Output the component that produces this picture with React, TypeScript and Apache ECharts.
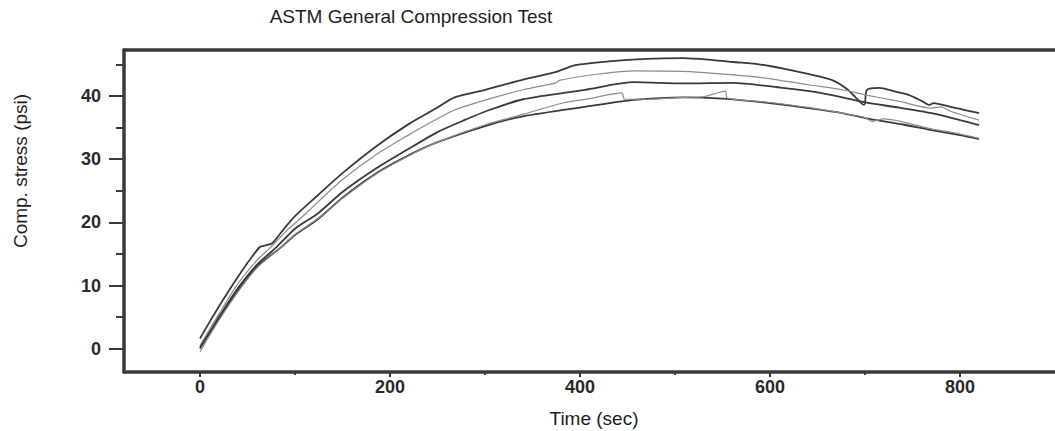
import { useEffect, useRef } from "react";
import * as echarts from "echarts";

const TITLE = "ASTM General Compression Test";
const X_NAME = "Time (sec)";
const Y_NAME = "Comp. stress (psi)";

const xMajorTicks = [0, 200, 400, 600, 800];
const xMinorTicks = [100, 300, 500, 700];
const yMajorTicks = [0, 10, 20, 30, 40];
const yMinorTicks = [5, 15, 25, 35, 45];

const tA = [0, 10, 20, 30, 40, 52, 63, 68, 76, 88, 100, 124, 150, 186, 220, 250, 268, 300, 340, 374, 395, 430, 470, 509, 540, 561, 590, 613, 640, 666, 682, 699, 702, 715, 730, 746, 760, 768, 772, 790, 804, 820];
const sA = [1.6, 4.2, 6.7, 9.1, 11.4, 14.0, 16.1, 16.3, 16.7, 18.9, 21.0, 24.3, 27.8, 32.1, 35.6, 38.2, 39.8, 41.0, 42.6, 43.8, 44.9, 45.5, 45.9, 46.0, 45.7, 45.4, 45.0, 44.4, 43.5, 42.5, 41.0, 38.6, 41.0, 41.3, 40.8, 40.2, 39.2, 38.6, 38.9, 38.3, 37.8, 37.3];

const tB = [0, 20, 40, 60, 74, 90, 110, 124, 150, 186, 218, 245, 268, 301, 340, 375, 378, 420, 457, 509, 541, 593, 640, 676, 700, 735, 770, 780, 790, 820];
const sB = [0.5, 5.5, 10.3, 14.0, 16.0, 18.5, 21.2, 23.2, 26.8, 30.8, 33.7, 36.0, 37.8, 39.4, 41.0, 42.1, 42.5, 43.5, 44.0, 43.9, 43.6, 42.9, 41.8, 41.0, 40.2, 39.2, 38.1, 38.3, 37.6, 36.2];

const tC = [0, 20, 40, 60, 80, 100, 124, 150, 186, 218, 250, 280, 301, 340, 405, 457, 509, 561, 613, 650, 676, 700, 735, 770, 800, 820];
const sC = [0, 5.0, 9.6, 13.3, 16.0, 19.0, 21.4, 24.8, 28.6, 31.5, 34.3, 36.3, 37.6, 39.5, 41.0, 42.2, 42.0, 42.1, 41.3, 40.6, 39.8, 39.0, 38.2, 37.3, 36.2, 35.4];

const tD = [0, 20, 40, 60, 85, 100, 124, 150, 186, 218, 250, 301, 340, 382, 410, 444, 447, 470, 509, 530, 553, 555, 593, 640, 676, 700, 707, 720, 770, 800, 820];
const sD = [-0.5, 4.5, 9.0, 12.8, 16.0, 18.1, 20.6, 23.8, 27.7, 30.4, 32.7, 35.5, 37.1, 38.9, 39.6, 40.5, 39.5, 39.5, 39.8, 39.9, 40.8, 39.7, 39.1, 38.2, 37.3, 36.6, 36.0, 36.4, 34.8, 34.0, 33.3];

const tE = [0, 20, 40, 60, 85, 100, 124, 150, 186, 218, 250, 301, 340, 405, 457, 509, 550, 593, 640, 676, 707, 740, 770, 800, 820];
const sE = [0.2, 4.8, 9.2, 13.0, 16.0, 18.0, 20.5, 23.9, 27.8, 30.5, 32.7, 35.3, 36.8, 38.3, 39.4, 39.8, 39.6, 39.0, 38.1, 37.3, 36.3, 35.5, 34.6, 33.8, 33.2];

const zip = (t: number[], s: number[]) => t.map((x, i) => [x, s[i]]);

const FONT = "'Liberation Sans', Arial, sans-serif";
const AXIS_COLOR = "#3a3a3a";

export default function App() {
  const ref = useRef<HTMLDivElement>(null);
  useEffect(() => {
    if (!ref.current) return;
    const chart = echarts.init(ref.current, undefined, { renderer: "svg" });
    const dark = { color: "#3a3a3a", width: 1.8 };
    const gray = { color: "#8c8c8c", width: 1.2 };
    const mk = (name: string, t: number[], s: number[], ls: any) => ({
      name,
      type: "line",
      data: zip(t, s),
      showSymbol: false,
      smooth: 0.25,
      lineStyle: ls,
      xAxisIndex: 0,
      yAxisIndex: 0,
    });
    chart.setOption({
      animation: false,
      backgroundColor: "#ffffff",
      grid: { left: 124, right: -10, top: 50, bottom: 59, containLabel: false },
      xAxis: [
        {
          type: "value",
          position: "bottom",
          min: -80,
          max: 900,
          axisLine: { show: true, onZero: false, lineStyle: { color: AXIS_COLOR, width: 3.5 } },
          axisTick: { show: true, customValues: xMajorTicks, length: 5, lineStyle: { color: AXIS_COLOR, width: 2 } },
          axisLabel: { customValues: xMajorTicks, margin: 6, fontSize: 18, fontWeight: "bold", color: "#2a2a2a", fontFamily: FONT },
          splitLine: { show: false },
        },
        {
          type: "value",
          position: "bottom",
          min: -80,
          max: 900,
          axisLine: { show: false, onZero: false },
          axisTick: { show: true, customValues: xMinorTicks, length: 3, lineStyle: { color: AXIS_COLOR, width: 2 } },
          axisLabel: { show: false },
          splitLine: { show: false },
        },
        {
          type: "value",
          position: "top",
          min: -80,
          max: 900,
          axisLine: { show: true, onZero: false, lineStyle: { color: AXIS_COLOR, width: 3.5 } },
          axisTick: { show: false },
          axisLabel: { show: false },
          splitLine: { show: false },
        },
      ],
      yAxis: [
        {
          type: "value",
          position: "left",
          min: -3.7,
          max: 47.3,
          axisLine: { show: true, onZero: false, lineStyle: { color: AXIS_COLOR, width: 3.5 } },
          axisTick: { show: true, customValues: yMajorTicks, length: 15, lineStyle: { color: AXIS_COLOR, width: 2 } },
          axisLabel: { customValues: yMajorTicks, margin: 23, fontSize: 18, fontWeight: "bold", color: "#2a2a2a", fontFamily: FONT },
          splitLine: { show: false },
        },
        {
          type: "value",
          position: "left",
          min: -3.7,
          max: 47.3,
          axisLine: { show: false, onZero: false },
          axisTick: { show: true, customValues: yMinorTicks, length: 8, lineStyle: { color: AXIS_COLOR, width: 2 } },
          axisLabel: { show: false },
          splitLine: { show: false },
        },
      ],
      graphic: [
        {
          type: "text",
          x: 411,
          y: 16,
          style: { text: TITLE, fontSize: 19, fontFamily: FONT, fill: "#1e1e1e", align: "center", verticalAlign: "middle" },
        },
        {
          type: "text",
          x: 594,
          y: 418,
          style: { text: X_NAME, fontSize: 19, fontFamily: FONT, fill: "#1e1e1e", align: "center", verticalAlign: "middle" },
        },
        {
          type: "text",
          x: 20,
          y: 171,
          rotation: Math.PI / 2,
          style: { text: Y_NAME, fontSize: 19, fontFamily: FONT, fill: "#1e1e1e", align: "center", verticalAlign: "middle" },
        },
      ],
      series: [
        mk("Sample 1", tA, sA, dark),
        mk("Sample 2", tB, sB, gray),
        mk("Sample 3", tC, sC, dark),
        mk("Sample 5", tE, sE, dark),
        mk("Sample 4", tD, sD, gray),
      ],
    });
    return () => chart.dispose();
  }, []);
  return (
    <div
      ref={ref}
      style={{ position: "absolute", left: 0, top: 0, width: 1055, height: 431, background: "#fff" }}
    />
  );
}
